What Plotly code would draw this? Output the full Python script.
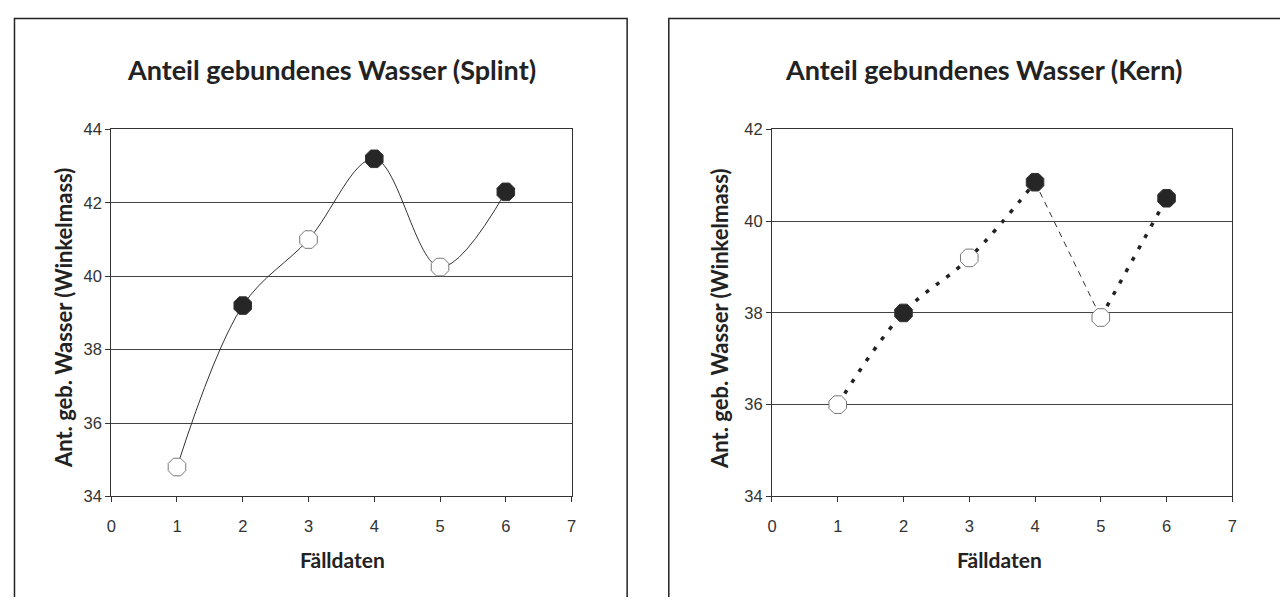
import plotly.graph_objects as go

# The page body has an 8px margin: compensate so paper coords map to page pixels
OFF = 8
W, H = 1288 - 2 * OFF, 605 - 2 * OFF

faelldaten = [1, 2, 3, 4, 5, 6]
splint = [34.8, 39.2, 41.0, 43.2, 40.25, 42.3]
kern = [36.0, 38.0, 39.2, 40.85, 37.9, 40.5]
filled = [False, True, False, True, False, True]

x_ticks = [0, 1, 2, 3, 4, 5, 6, 7]
y_ticks_splint = [34, 36, 38, 40, 42, 44]
y_ticks_kern = [34, 36, 38, 40, 42]

title_splint = "Anteil gebundenes Wasser (Splint)"
title_kern = "Anteil gebundenes Wasser (Kern)"
y_title = "Ant. geb. Wasser (Winkelmass)"
x_title = "Fälldaten"

def px(x):
    return (x - OFF) / W

def py(y):
    return 1 - (y - OFF) / H

fill_colors = ["#262626" if f else "#ffffff" for f in filled]
line_colors = ["#333333" if f else "#777777" for f in filled]
marker_cfg = dict(symbol="octagon", size=19, color=fill_colors,
                  line=dict(color=line_colors, width=1))

fig = go.Figure()

# Splint: thin solid smoothed line
fig.add_trace(go.Scatter(x=faelldaten, y=splint, mode="lines",
                         line=dict(color="#333333", width=1, shape="spline", smoothing=1.0),
                         xaxis="x", yaxis="y", hoverinfo="skip"))
fig.add_trace(go.Scatter(x=faelldaten, y=splint, mode="markers", marker=marker_cfg,
                         xaxis="x", yaxis="y"))

# Kern: thick dotted with thin dashed segment from 4 to 5
fig.add_trace(go.Scatter(x=faelldaten[0:4], y=kern[0:4], mode="lines",
                         line=dict(color="#222222", width=3.5, dash="4px,9px", shape="spline", smoothing=1.1),
                         xaxis="x2", yaxis="y2", hoverinfo="skip"))
fig.add_trace(go.Scatter(x=faelldaten[3:5], y=kern[3:5], mode="lines",
                         line=dict(color="#333333", width=1, dash="6px,5px", shape="spline"),
                         xaxis="x2", yaxis="y2", hoverinfo="skip"))
fig.add_trace(go.Scatter(x=faelldaten[4:6], y=kern[4:6], mode="lines",
                         line=dict(color="#222222", width=3.5, dash="4px,9px", shape="spline"),
                         xaxis="x2", yaxis="y2", hoverinfo="skip"))
fig.add_trace(go.Scatter(x=faelldaten, y=kern, mode="markers", marker=marker_cfg,
                         xaxis="x2", yaxis="y2"))

tick_font = dict(family="Liberation Sans, Arial, sans-serif", size=16.5, color="#333333")

def xaxis_cfg(domain, anchor):
    return dict(domain=domain, anchor=anchor, range=[0, 7], tickvals=x_ticks,
                showgrid=False, zeroline=False, showline=True, linecolor="#333333",
                linewidth=1, mirror=True, ticks="outside", ticklen=5, tickcolor="#333333",
                tickfont=tick_font, ticklabelstandoff=10)

def yaxis_cfg(domain, anchor, rng, ticks):
    return dict(domain=domain, anchor=anchor, range=rng, tickvals=ticks,
                showgrid=True, gridcolor="#444444", gridwidth=1, zeroline=False,
                showline=True, linecolor="#333333", linewidth=1, mirror=True,
                ticks="outside", ticklen=5, tickcolor="#333333", tickfont=tick_font,
                ticklabelstandoff=0)

ydom = [py(502.5), py(124)]
fig.update_layout(
    width=W, height=H, margin=dict(l=0, r=0, t=0, b=0),
    paper_bgcolor="white", plot_bgcolor="white", showlegend=False,
    xaxis=xaxis_cfg([px(107), px(571)], "y"),
    yaxis=yaxis_cfg(ydom, "x", [34, 44], y_ticks_splint),
    xaxis2=xaxis_cfg([px(773), px(1237)], "y2"),
    yaxis2=yaxis_cfg(ydom, "x2", [34, 42], y_ticks_kern),
)

# outer frames
fig.add_shape(type="rect", xref="paper", yref="paper", x0=px(9.5), x1=px(627), y0=py(640), y1=py(9.5),
              line=dict(color="#222222", width=1.5))
fig.add_shape(type="rect", xref="paper", yref="paper", x0=px(669), x1=px(1320), y0=py(640), y1=py(9.5),
              line=dict(color="#222222", width=1.5))

title_font = dict(family="Lato, Open Sans, sans-serif", size=27, color="#222222")
ylabel_font = dict(family="Lato, Open Sans, sans-serif", size=22, color="#222222")
xlabel_font = dict(family="Lato, Open Sans, sans-serif", size=21, color="#222222")

def ann(text, x, y, font, angle=0):
    fig.add_annotation(text="<b>%s</b>" % text, x=px(x), y=py(y), xref="paper", yref="paper",
                       showarrow=False, font=font, textangle=angle, xanchor="center", yanchor="middle")

ann(title_splint, 329, 62, title_font)
ann(title_kern, 986, 62, title_font)
ann(y_title, 59, 319, ylabel_font, -90)
ann(y_title, 720, 319, ylabel_font, -90)
ann(x_title, 340, 568, xlabel_font)
ann(x_title, 1002, 568, xlabel_font)

fig.write_html("out.html")
